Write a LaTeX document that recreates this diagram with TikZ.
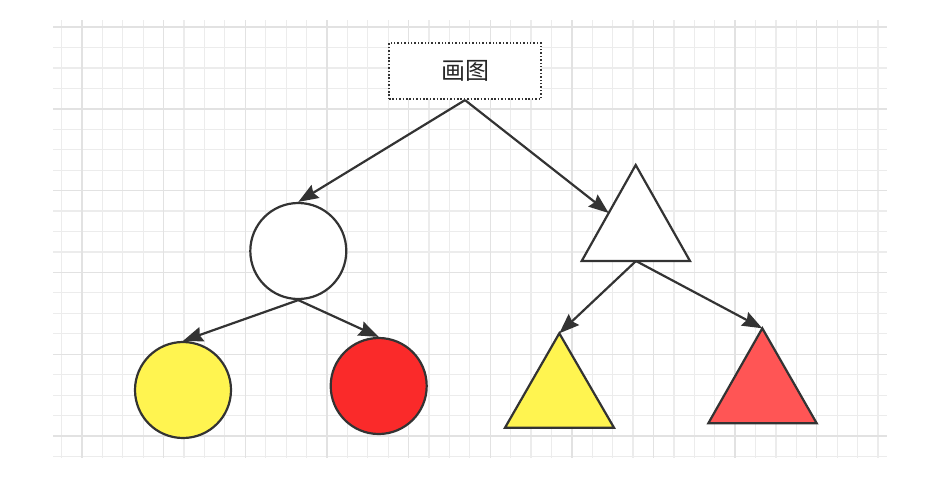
\documentclass[tikz,border=0pt]{standalone}
\usepackage{fontspec}
\newfontfamily\cjk{Noto Sans CJK SC}
\usetikzlibrary{arrows.meta}
\definecolor{linec}{HTML}{333333}
\definecolor{minorg}{HTML}{ECECEC}
\definecolor{majorg}{HTML}{E2E2E2}
\definecolor{yel}{HTML}{FFF450}
\definecolor{redc}{HTML}{FA2A2A}
\definecolor{redt}{HTML}{FF5555}
\begin{document}
\begin{tikzpicture}[x=1pt,y=-1pt,
  edge/.style={draw=linec, line width=2.2pt, -{Stealth[length=20pt,width=15pt,inset=2.5pt]}},
  shapeline/.style={draw=linec, line width=2.2pt, line join=miter},
  roundshape/.style={circle, shapeline, minimum size=96pt, inner sep=0pt},
  titlebox/.style={draw=linec, line width=2.2pt, dash pattern=on 1.5pt off 1.9pt, minimum width=152pt, minimum height=56pt, inner sep=0pt, font=\cjk\fontsize{24}{28}\selectfont, text=black!85},
  minorline/.style={draw=minorg, line width=1.2pt},
  majorline/.style={draw=majorg, line width=1.4pt}
]
\useasboundingbox (0,0) rectangle (928,485);
% grid
\foreach \i in {0,...,40} {
  \pgfmathsetmacro\xx{61.6+20.41*\i}
  \draw[minorline] (\xx,20) -- (\xx,458);
}
\foreach \j in {0,...,21} {
  \pgfmathsetmacro\yy{27+20.45*\j}
  \draw[minorline] (53,\yy) -- (887,\yy);
}
\foreach \i in {1,5,...,37} {
  \pgfmathsetmacro\xx{61.6+20.41*\i}
  \draw[majorline] (\xx,20) -- (\xx,458);
}
\foreach \j in {0,4,...,20} {
  \pgfmathsetmacro\yy{27+20.45*\j}
  \draw[majorline] (53,\yy) -- (887,\yy);
}
% title
\node[titlebox, fill=white] (title) at (465,71) {画图};
% circles
\node[roundshape, fill=white] (c0) at (298.3,251) {};
\node[roundshape, fill=yel] (c1) at (183,390) {};
\node[roundshape, fill=redc] (c2) at (378.7,386) {};
% triangles
\draw[shapeline, fill=white] (581.7,261) -- (635.7,165) -- (690,261) -- cycle;
\coordinate (t0apex) at (635.7,165);
\coordinate (t0base) at (636,261);
\coordinate (t0left) at (608.7,213);
\draw[shapeline, fill=yel] (505,427.7) -- (559.3,333.3) -- (614,427.7) -- cycle;
\coordinate (t1apex) at (559.3,333.3);
\draw[shapeline, fill=redt] (708.3,423.3) -- (762.3,328.3) -- (816.7,423.3) -- cycle;
\coordinate (t2apex) at (762.3,328.3);
% connectors
\draw[edge] (title.south) -- (c0.north);
\draw[edge] (title.south) -- (t0left);
\draw[edge] (c0.south) -- (c1.north);
\draw[edge] (c0.south) -- (c2.north);
\draw[edge] (t0base) -- (t1apex);
\draw[edge] (t0base) -- (t2apex);
\end{tikzpicture}
\end{document}
